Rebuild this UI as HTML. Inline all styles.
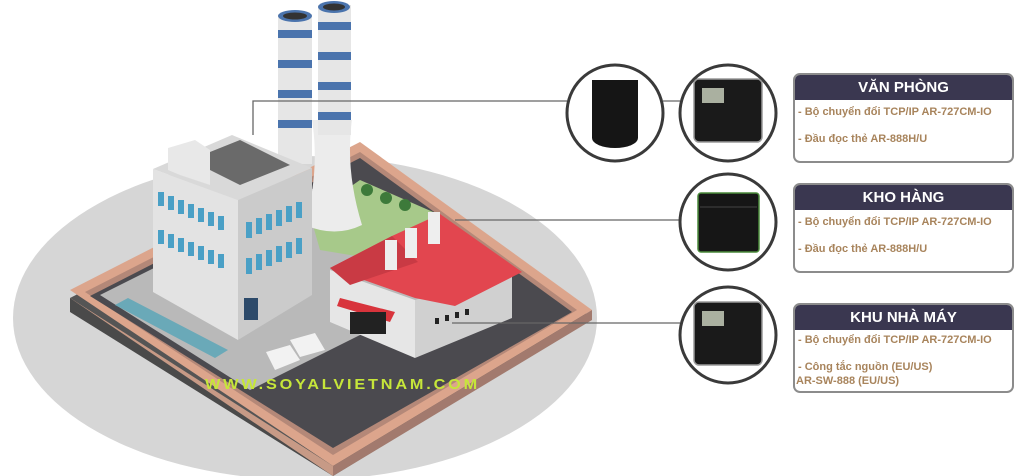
<!DOCTYPE html>
<html><head><meta charset="utf-8"><style>
html,body{margin:0;padding:0;background:#fff;width:1024px;height:476px;overflow:hidden;font-family:"Liberation Sans",Arial,sans-serif}
.box{position:absolute;left:793px;width:221px;border:2px solid #8c8c8c;border-radius:7px;background:#fff;overflow:hidden;box-sizing:border-box}
.hd{background:#3a3750;color:#fff;font-weight:bold;font-size:15px;text-align:center;height:25px;line-height:26px}
.ln{position:absolute;left:3px;color:#a8845c;font-weight:bold;font-size:11px;white-space:nowrap}
</style></head><body>
<svg width="1024" height="476" style="position:absolute;left:0;top:0">
<ellipse cx="305" cy="318" rx="292" ry="162" fill="#d6d6d6"/>
<polygon points="70,298 360,150 592,318 333,476" fill="#555"/>
<polygon points="70,290 360,142 592,310 333,466" fill="#dca58c"/>
<polygon points="85,292 360,152 577,310 333,455" fill="#b48878"/>
<polygon points="90,296 360,158 572,312 333,448" fill="#4b4a4f"/>
<polygon points="100,295 330,180 470,280 250,390" fill="#b9b9b9"/>
<polygon points="70,298 333,466 333,476 70,308" fill="#c79a86"/>
<polygon points="333,466 592,310 592,320 333,476" fill="#a27a6e"/>
<polygon points="70,298 70,312 333,476" fill="#4a4a4a"/>
<polygon points="310,215 360,180 440,215 380,260 320,250" fill="#a7c98a"/>
<circle cx="367" cy="190" r="6" fill="#3d7a3a"/><circle cx="386" cy="198" r="6" fill="#3d7a3a"/><circle cx="405" cy="205" r="6" fill="#3d7a3a"/>
<polygon points="115,305 215,358 228,350 128,298" fill="#6aa9b8"/>
<path d="M312,120 L352,120 Q345,170 362,225 Q335,238 305,225 Q320,170 312,120z" fill="#ececec"/>
<rect x="278" y="14" width="34" height="150" fill="#e6e6e6"/>
<rect x="318" y="5" width="33" height="130" fill="#e6e6e6"/>
<g fill="#4b74ad">
<rect x="278" y="30" width="34" height="8"/><rect x="278" y="60" width="34" height="8"/><rect x="278" y="90" width="34" height="8"/><rect x="278" y="120" width="34" height="8"/>
<rect x="318" y="22" width="33" height="8"/><rect x="318" y="52" width="33" height="8"/><rect x="318" y="82" width="33" height="8"/><rect x="318" y="112" width="33" height="8"/>
</g>
<ellipse cx="295" cy="16" rx="17" ry="6" fill="#4b74ad"/><ellipse cx="295" cy="16" rx="12" ry="3.5" fill="#333"/>
<ellipse cx="334" cy="7" rx="16" ry="6" fill="#4b74ad"/><ellipse cx="334" cy="7" rx="11" ry="3.5" fill="#333"/>
<polygon points="153,169 238,200 238,340 153,292" fill="#e3e3e3"/>
<polygon points="238,200 312,168 312,295 238,340" fill="#cbcbcb"/>
<polygon points="153,169 232,135 312,168 238,200" fill="#d9d9d9"/>
<polygon points="190,160 240,140 290,165 240,185" fill="#6a6a6a"/>
<polygon points="168,148 195,140 210,150 210,185 180,175 168,170" fill="#e8e8e8"/>
<g fill="#4aa0c6">
<rect x="158" y="192" width="6" height="14"/><rect x="168" y="196" width="6" height="14"/><rect x="178" y="200" width="6" height="14"/><rect x="188" y="204" width="6" height="14"/><rect x="198" y="208" width="6" height="14"/><rect x="208" y="212" width="6" height="14"/><rect x="218" y="216" width="6" height="14"/>
<rect x="158" y="230" width="6" height="14"/><rect x="168" y="234" width="6" height="14"/><rect x="178" y="238" width="6" height="14"/><rect x="188" y="242" width="6" height="14"/><rect x="198" y="246" width="6" height="14"/><rect x="208" y="250" width="6" height="14"/><rect x="218" y="254" width="6" height="14"/>
<rect x="246" y="222" width="6" height="16"/><rect x="256" y="218" width="6" height="16"/><rect x="266" y="214" width="6" height="16"/><rect x="276" y="210" width="6" height="16"/><rect x="286" y="206" width="6" height="16"/><rect x="296" y="202" width="6" height="16"/>
<rect x="246" y="258" width="6" height="16"/><rect x="256" y="254" width="6" height="16"/><rect x="266" y="250" width="6" height="16"/><rect x="276" y="246" width="6" height="16"/><rect x="286" y="242" width="6" height="16"/><rect x="296" y="238" width="6" height="16"/>
</g>
<rect x="244" y="298" width="14" height="22" fill="#2d4a6a"/>
<polygon points="330,270 415,300 415,358 330,322" fill="#e6e6e6"/>
<polygon points="415,300 512,268 512,318 415,358" fill="#d0d0d0"/>
<polygon points="330,268 392,236 440,214 522,272 455,306 415,298" fill="#e2464f"/>
<polygon points="330,268 392,236 418,262 350,285" fill="#c93a44"/>
<rect x="385" y="240" width="12" height="30" fill="#eee"/><rect x="405" y="228" width="12" height="30" fill="#eee"/><rect x="428" y="212" width="12" height="32" fill="#eee"/>
<polygon points="340,298 395,312 390,322 337,306" fill="#d8343c"/>
<rect x="350" y="312" width="36" height="22" fill="#222"/>
<g fill="#222"><rect x="435" y="318" width="4" height="6"/><rect x="445" y="315" width="4" height="6"/><rect x="455" y="312" width="4" height="6"/><rect x="465" y="309" width="4" height="6"/></g>
<polygon points="266,352 290,345 300,360 275,370" fill="#f2f2f2"/><polygon points="290,340 315,333 325,350 300,357" fill="#f2f2f2"/>
<text x="205" y="389" font-family="Liberation Sans,Arial,sans-serif" font-weight="bold" font-size="15" letter-spacing="2.6" fill="#c6e63a" textLength="275" lengthAdjust="spacingAndGlyphs">WWW.SOYALVIETNAM.COM</text>
<polyline points="253,135 253,101 567,101" fill="none" stroke="#666" stroke-width="1.3"/>
<line x1="663" y1="101" x2="680" y2="101" stroke="#666" stroke-width="1.3"/>
<line x1="455" y1="220" x2="680" y2="220" stroke="#666" stroke-width="1.3"/>
<line x1="452" y1="323" x2="680" y2="323" stroke="#666" stroke-width="1.3"/>
<g fill="#fff" stroke="#3a3a3a" stroke-width="3">
<circle cx="615" cy="113" r="48"/><circle cx="728" cy="113" r="48"/><circle cx="728" cy="222" r="48"/><circle cx="728" cy="335" r="48"/>
</g>
<path d="M592,80 h46 v58 a23,10 0 0 1 -46,0z" fill="#151515"/>
<rect x="694" y="79" width="68" height="63" rx="5" fill="#1a1a1a" stroke="#999" stroke-width="1.5"/>
<rect x="702" y="88" width="22" height="15" fill="#aab0a0"/>
<rect x="698" y="193" width="61" height="59" rx="3" fill="#161616" stroke="#4a8a3a" stroke-width="1.5"/>
<line x1="700" y1="207" x2="757" y2="207" stroke="#444"/>
<rect x="694" y="302" width="68" height="63" rx="5" fill="#1a1a1a" stroke="#999" stroke-width="1.5"/>
<rect x="702" y="311" width="22" height="15" fill="#aab0a0"/>
</svg>
<div class="box" style="top:73px;height:90px"><div class="hd">VĂN PHÒNG</div>
<div class="ln" style="top:31px">- Bộ chuyển đổi TCP/IP AR-727CM-IO</div>
<div class="ln" style="top:58px">- Đầu đọc thẻ AR-888H/U</div></div>
<div class="box" style="top:183px;height:90px"><div class="hd">KHO HÀNG</div>
<div class="ln" style="top:31px">- Bộ chuyển đổi TCP/IP AR-727CM-IO</div>
<div class="ln" style="top:58px">- Đầu đọc thẻ AR-888H/U</div></div>
<div class="box" style="top:303px;height:90px"><div class="hd">KHU NHÀ MÁY</div>
<div class="ln" style="top:29px">- Bộ chuyển đổi TCP/IP AR-727CM-IO</div>
<div class="ln" style="top:56px">- Công tắc nguồn (EU/US)</div>
<div class="ln" style="top:70px;left:1px">AR-SW-888 (EU/US)</div></div>
</body></html>
